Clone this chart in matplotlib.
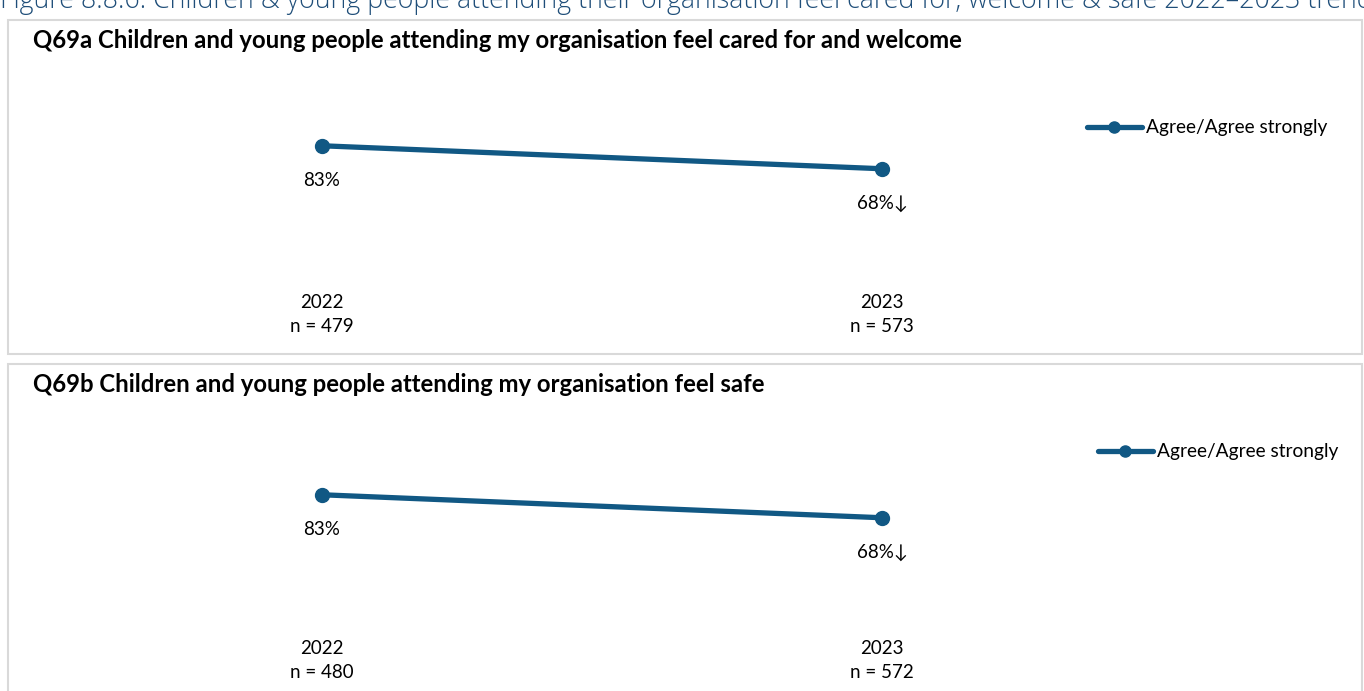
import matplotlib.pyplot as plt
from matplotlib.patches import Rectangle
from matplotlib.lines import Line2D

# Survey trend data
years = ['2022', '2023']
q69a_values = [83, 68]
q69a_counts = [479, 573]
q69b_values = [83, 68]
q69b_counts = [480, 572]
value_suffix = ['', '↓']
series_name = 'Agree/Agree strongly'

LINE_COLOR = '#115884'
BOX_EDGE = '#d9d9d9'
FONT = 'Lato'

W, H = 1364, 691
fig = plt.figure(figsize=(W / 100, H / 100), dpi=100)
fig.patch.set_facecolor('white')


def fx(px):
    return px / W


def fy(py):
    return 1 - py / H


# Figure caption, partly clipped by the top edge
fig.text(fx(0), fy(8), 'Figure 8.8.6: Children & young people attending their organisation '
         'feel cared for, welcome & safe 2022\u20132023 trend',
         ha='left', va='baseline', fontsize=19.3, color='#1f4e79',
         family='Open Sans', fontweight='light')


def panel(top, bottom, title, values, counts, legend_x, legend_y, y0_px, lab_off):
    # panel frame, kept under the plot area
    fig.patches.append(Rectangle((fx(8), fy(bottom)), fx(1354), (bottom - top) / H,
                                 transform=fig.transFigure, facecolor='white',
                                 edgecolor=BOX_EDGE, linewidth=1.5, zorder=-5))
    fig.text(fx(33), fy(top + 20), title, ha='left', va='center',
             fontsize=17.2, fontweight='bold', color='black', family=FONT)

    # plot area: y 0..100 spans 153 px, x categories 560 px apart
    y100_px = y0_px - 153.3
    ax = fig.add_axes([fx(42), fy(y0_px), fx(1120), (y0_px - y100_px) / H])
    ax.set_xlim(-0.5, 1.5)
    ax.set_ylim(0, 100)
    ax.axis('off')
    ax.patch.set_alpha(0)
    xs = range(len(values))
    ax.plot(xs, values, color=LINE_COLOR, linewidth=3.8, marker='o',
            markersize=10, solid_capstyle='round', clip_on=False)
    for x, v, s in zip(xs, values, value_suffix):
        ax.annotate(f'{v}%{s}', (x, v), xytext=(0, -35), textcoords='offset pixels',
                    ha='center', va='center', fontsize=13.5,
                    family=[FONT, 'DejaVu Sans'])
    for x, yr, n in zip(xs, years, counts):
        ax.annotate(yr, (x, 0), xytext=(0, -lab_off), textcoords='offset pixels',
                    ha='center', va='center', fontsize=13.5, family=FONT,
                    annotation_clip=False)
        ax.annotate(f'n = {n}', (x, 0), xytext=(0, -lab_off - 24),
                    textcoords='offset pixels', ha='center', va='center',
                    fontsize=13.5, family=FONT, annotation_clip=False)

    # legend entry
    ly = fy(legend_y)
    fig.lines.append(Line2D([fx(legend_x), fx(legend_x + 55)], [ly, ly],
                            transform=fig.transFigure, color=LINE_COLOR,
                            linewidth=3.8, solid_capstyle='round'))
    fig.lines.append(Line2D([fx(legend_x + 27)], [ly], transform=fig.transFigure,
                            color=LINE_COLOR, marker='o', markersize=8))
    fig.text(fx(legend_x + 59), ly, series_name, ha='left', va='center',
             fontsize=13.8, family=FONT)


panel(20, 354, 'Q69a Children and young people attending my organisation feel cared for and welcome',
      q69a_values, q69a_counts, 1087, 127, 273, 30)
panel(364, 700, 'Q69b Children and young people attending my organisation feel safe',
      q69b_values, q69b_counts, 1098, 451, 622, 27)

fig.savefig('out.png', dpi=100, facecolor='white')
